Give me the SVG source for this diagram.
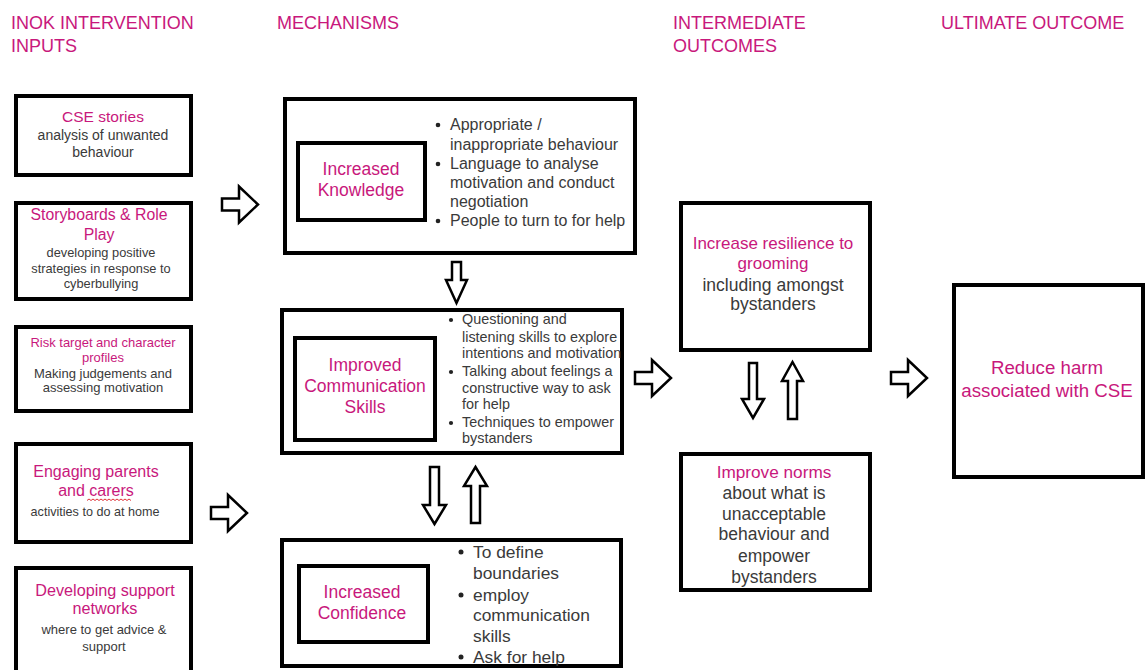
<svg xmlns="http://www.w3.org/2000/svg" width="1146" height="670" viewBox="0 0 1146 670">
<defs>
<style>
text{font-family:"Liberation Sans",Arial,Helvetica,sans-serif}
.hd{fill:#c8187c;font-size:18px}
.pk{fill:#c8187c}
.gr{fill:#3a3a3a}
.c{text-anchor:middle}
.box{fill:#fff;stroke:#000;stroke-width:4}
.ibox{fill:none;stroke:#000;stroke-width:4}
.arr{fill:#fff;stroke:#000;stroke-width:2.5;stroke-linejoin:miter}
.bul{fill:#222}
</style>
<path id="rarrow" d="M0,-6 H17 V-18 L36,0 L17,18 V6 H0 Z"/>
</defs>
<rect width="1146" height="670" fill="#fff"/>

<g id="headers">
<text class="hd" x="11" y="29">INOK INTERVENTION</text>
<text class="hd" x="11" y="52">INPUTS</text>
<text class="hd" x="277" y="29">MECHANISMS</text>
<text class="hd" x="673" y="29">INTERMEDIATE</text>
<text class="hd" x="673" y="52">OUTCOMES</text>
<text class="hd" x="941" y="29">ULTIMATE OUTCOME</text>
</g>

<g id="input-cse">
<rect class="box" x="16" y="96" width="175" height="79"/>
<text class="pk c" x="103" y="122" font-size="15.5">CSE stories</text>
<text class="gr c" x="103" y="140" font-size="14">analysis of unwanted</text>
<text class="gr c" x="103" y="157" font-size="14">behaviour</text>
</g>

<g id="input-storyboards">
<rect class="box" x="16" y="203" width="175" height="96"/>
<text class="pk c" x="99" y="220" font-size="15.8">Storyboards &amp; Role</text>
<text class="pk c" x="99" y="240" font-size="15.8">Play</text>
<text class="gr c" x="101" y="257" font-size="12.8">developing positive</text>
<text class="gr c" x="101" y="273" font-size="12.8">strategies in response to</text>
<text class="gr c" x="101" y="288" font-size="12.8">cyberbullying</text>
</g>

<g id="input-risk">
<rect class="box" x="16" y="327" width="175" height="84"/>
<text class="pk c" x="103" y="347" font-size="13">Risk target and character</text>
<text class="pk c" x="103" y="362" font-size="13">profiles</text>
<text class="gr c" x="103" y="378" font-size="13">Making judgements and</text>
<text class="gr c" x="103" y="392" font-size="13">assessing motivation</text>
</g>

<g id="input-parents">
<rect class="box" x="16" y="444" width="175" height="98"/>
<text class="pk c" x="96" y="477" font-size="16">Engaging parents</text>
<text class="pk c" x="96" y="496" font-size="16">and carers</text>
<path d="M87,500.5 l2,-1.5 l2,1.5 l2,-1.5 l2,1.5 l2,-1.5 l2,1.5 l2,-1.5 l2,1.5 l2,-1.5 l2,1.5 l2,-1.5 l2,1.5 l2,-1.5 l2,1.5 l2,-1.5 l2,1.5 l2,-1.5 l2,1.5 l2,-1.5 l2,1.5 l2,-1.5 l2,1.5" fill="none" stroke="#e0343a" stroke-width="1"/>
<text class="gr c" x="95" y="516" font-size="12.6">activities to do at home</text>
</g>

<g id="input-support">
<rect class="box" x="16" y="568" width="175" height="120"/>
<text class="pk c" x="105" y="596" font-size="16.2">Developing support</text>
<text class="pk c" x="105" y="614" font-size="16.2">networks</text>
<text class="gr c" x="104" y="634" font-size="13">where to get advice &amp;</text>
<text class="gr c" x="104" y="651" font-size="13">support</text>
</g>

<g id="mech-knowledge">
<rect class="box" x="285" y="99" width="350" height="154"/>
<rect class="ibox" x="298" y="143" width="127" height="77"/>
<text class="pk c" x="361" y="175" font-size="17.5">Increased</text>
<text class="pk c" x="361" y="196" font-size="17.5">Knowledge</text>
<g class="gr" font-size="16">
<circle class="bul" cx="438" cy="125" r="2.3"/>
<text x="450" y="130">Appropriate /</text>
<text x="450" y="150">inappropriate behaviour</text>
<circle class="bul" cx="438" cy="164" r="2.3"/>
<text x="450" y="169">Language to analyse</text>
<text x="450" y="188">motivation and conduct</text>
<text x="450" y="207">negotiation</text>
<circle class="bul" cx="438" cy="221" r="2.3"/>
<text x="450" y="226">People to turn to for help</text>
</g>
</g>

<g id="mech-communication">
<rect class="box" x="282" y="310" width="340" height="143"/>
<rect class="ibox" x="295" y="338" width="140" height="102"/>
<text class="pk c" x="365" y="371" font-size="17.5">Improved</text>
<text class="pk c" x="365" y="392" font-size="17.5">Communication</text>
<text class="pk c" x="365" y="413" font-size="17.5">Skills</text>
<g class="gr" font-size="14.4">
<circle class="bul" cx="451" cy="320" r="2.1"/>
<text x="462" y="324">Questioning and</text>
<text x="462" y="342">listening skills to explore</text>
<text x="462" y="358">intentions and motivation</text>
<circle class="bul" cx="451" cy="372" r="2.1"/>
<text x="462" y="376">Talking about feelings a</text>
<text x="462" y="393">constructive way to ask</text>
<text x="462" y="409">for help</text>
<circle class="bul" cx="451" cy="423" r="2.1"/>
<text x="462" y="427">Techniques to empower</text>
<text x="462" y="443">bystanders</text>
</g>
</g>

<g id="mech-confidence">
<rect class="box" x="282" y="540" width="339" height="126"/>
<rect class="ibox" x="299" y="566" width="129" height="76"/>
<text class="pk c" x="362" y="598" font-size="17.5">Increased</text>
<text class="pk c" x="362" y="619" font-size="17.5">Confidence</text>
<g class="gr" font-size="17.4">
<circle class="bul" cx="461" cy="552" r="2.5"/>
<text x="473" y="558">To define</text>
<text x="473" y="579">boundaries</text>
<circle class="bul" cx="461" cy="595" r="2.5"/>
<text x="473" y="601">employ</text>
<text x="473" y="621">communication</text>
<text x="473" y="642">skills</text>
<circle class="bul" cx="461" cy="657" r="2.5"/>
<text x="473" y="663">Ask for help</text>
</g>
</g>

<g id="outcome-resilience">
<rect class="box" x="681" y="203" width="189" height="147"/>
<text class="pk c" x="773" y="249" font-size="17">Increase resilience to</text>
<text class="pk c" x="773" y="269" font-size="17">grooming</text>
<text class="gr c" x="773" y="291" font-size="17.5">including amongst</text>
<text class="gr c" x="773" y="310" font-size="17.5">bystanders</text>
</g>

<g id="outcome-norms">
<rect class="box" x="681" y="454" width="189" height="136"/>
<text class="pk c" x="774" y="478" font-size="17.2">Improve norms</text>
<g class="gr c" font-size="17.5">
<text x="774" y="499">about what is</text>
<text x="774" y="520">unacceptable</text>
<text x="774" y="540">behaviour and</text>
<text x="774" y="562">empower</text>
<text x="774" y="583">bystanders</text>
</g>
</g>

<g id="ultimate-outcome">
<rect class="box" x="954" y="285" width="189" height="192"/>
<text class="pk c" x="1047" y="374" font-size="18.7">Reduce harm</text>
<text class="pk c" x="1047" y="397" font-size="18.7">associated with CSE</text>
</g>

<g id="connectors">
<use href="#rarrow" class="arr" x="222" y="204.5"/>
<use href="#rarrow" class="arr" x="211" y="513"/>
<use href="#rarrow" class="arr" x="635" y="378"/>
<use href="#rarrow" class="arr" x="891" y="378"/>
<path class="arr" d="M452,262 H461 V280 H467 L456.5,303 L446,280 H452 Z"/>
<path class="arr" d="M430,467 H439 V505 H446 L434.5,524 L423,505 H430 Z"/>
<path class="arr" d="M475.5,467 L487,486 H480 V523 H471 V486 H464 Z"/>
<path class="arr" d="M749,363 H757 V399 H764 L753,418 L742,399 H749 Z"/>
<path class="arr" d="M792.5,362 L803,381 H797 V419 H788 V381 H782 Z"/>
</g>
</svg>
